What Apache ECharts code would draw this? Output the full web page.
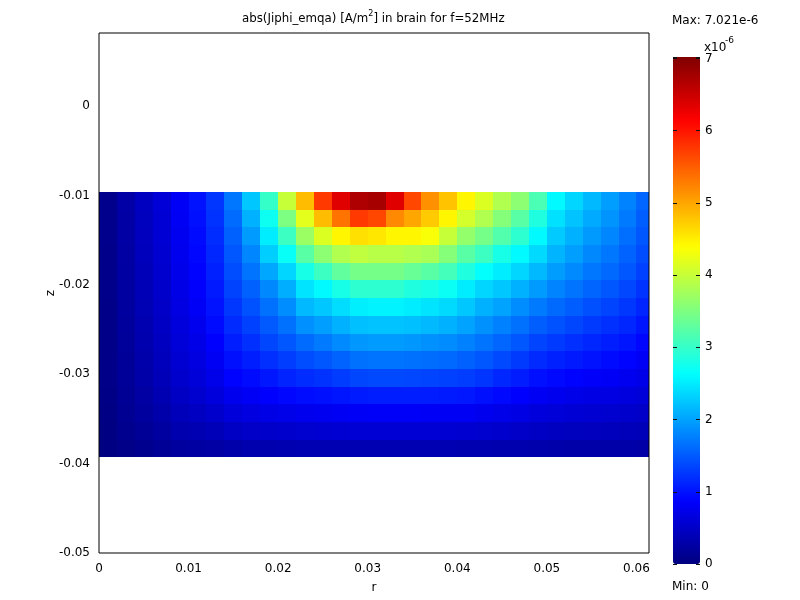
<!DOCTYPE html>
<html>
<head>
<meta charset="utf-8">
<script src="https://cdn.jsdelivr.net/npm/echarts@6/dist/echarts.min.js"></script>
<style>
html,body{margin:0;padding:0;background:#fff;}
#chart{width:800px;height:600px;}
</style>
</head>
<body>
<div id="chart"></div>
<script>
// r (cell centres, m) and z (cell centres, m) of the sampled field
const rCenters = [0.001,0.003,0.005,0.007,0.009,0.011,0.013,0.015,0.017,0.019,0.021,0.023,0.025,0.027,0.029,0.031,0.033,0.035,0.037,0.039,0.041,0.043,0.045,0.047,0.049,0.051,0.053,0.055,0.057,0.059,0.061];
const zCenters = [-0.01059,-0.01257,-0.01455,-0.01653,-0.01851,-0.02049,-0.02247,-0.02445,-0.02643,-0.02841,-0.03039,-0.03237,-0.03435,-0.03633,-0.03831];
// abs(Jiphi_emqa) in units of 1e-6 A/m^2, one row per z
const row0  = [0.09,0.27,0.45,0.6,0.82,1.0,1.25,1.7,2.25,3.0,4.0,4.85,5.75,6.35,6.7,6.75,6.35,5.65,5.15,4.8,4.45,4.15,3.85,3.6,3.15,2.6,2.35,2.15,1.97,1.78,1.58];
const row1  = [0.09,0.26,0.44,0.59,0.8,0.98,1.22,1.62,2.1,2.72,3.5,4.2,4.85,5.35,5.75,5.65,5.2,5.0,4.75,4.45,4.1,3.85,3.55,3.25,2.85,2.42,2.22,2.05,1.9,1.72,1.53];
const row2  = [0.09,0.26,0.43,0.58,0.78,0.95,1.18,1.55,1.95,2.5,3.05,3.7,4.15,4.45,4.6,4.55,4.45,4.45,4.35,4.0,3.65,3.45,3.2,2.95,2.6,2.27,2.1,1.94,1.8,1.64,1.47];
const row3  = [0.08,0.25,0.42,0.56,0.76,0.92,1.14,1.48,1.8,2.3,2.68,3.25,3.6,3.85,3.95,3.9,3.9,3.85,3.8,3.55,3.25,3.05,2.8,2.6,2.38,2.12,1.97,1.82,1.7,1.56,1.4];
const row4  = [0.08,0.24,0.4,0.54,0.74,0.89,1.1,1.41,1.67,2.03,2.35,2.8,3.05,3.3,3.45,3.45,3.45,3.35,3.25,3.1,2.85,2.65,2.5,2.35,2.15,1.96,1.83,1.7,1.6,1.47,1.32];
const row5  = [0.08,0.23,0.38,0.52,0.71,0.86,1.05,1.34,1.55,1.82,2.08,2.45,2.6,2.8,2.95,2.95,2.95,2.85,2.8,2.7,2.5,2.35,2.25,2.1,1.95,1.79,1.68,1.57,1.48,1.37,1.23];
const row6  = [0.07,0.22,0.36,0.5,0.68,0.82,1.0,1.26,1.44,1.66,1.85,2.15,2.25,2.4,2.52,2.55,2.55,2.5,2.45,2.38,2.25,2.1,2.0,1.85,1.72,1.61,1.52,1.43,1.35,1.26,1.13];
const row7  = [0.07,0.2,0.34,0.47,0.64,0.77,0.95,1.17,1.32,1.5,1.65,1.87,1.97,2.1,2.2,2.22,2.22,2.2,2.15,2.1,2.0,1.88,1.77,1.66,1.53,1.44,1.36,1.28,1.21,1.14,1.02];
const row8  = [0.06,0.19,0.32,0.45,0.61,0.72,0.88,1.08,1.2,1.36,1.48,1.62,1.72,1.83,1.93,1.95,1.95,1.93,1.88,1.84,1.77,1.68,1.58,1.48,1.35,1.27,1.2,1.14,1.08,1.02,0.92];
const row9  = [0.06,0.18,0.3,0.42,0.57,0.67,0.81,0.99,1.08,1.2,1.3,1.4,1.47,1.56,1.66,1.68,1.68,1.66,1.63,1.6,1.55,1.47,1.38,1.28,1.17,1.1,1.05,1.0,0.95,0.9,0.82];
const row10 = [0.06,0.17,0.28,0.39,0.53,0.61,0.73,0.89,0.95,1.03,1.12,1.18,1.22,1.29,1.36,1.38,1.38,1.37,1.35,1.33,1.3,1.24,1.15,1.07,0.98,0.93,0.89,0.85,0.82,0.78,0.72];
const row11 = [0.05,0.15,0.25,0.35,0.48,0.55,0.64,0.77,0.82,0.88,0.92,0.96,0.98,1.02,1.06,1.08,1.08,1.08,1.07,1.06,1.04,0.99,0.93,0.87,0.8,0.76,0.73,0.7,0.68,0.65,0.61];
const row12 = [0.04,0.13,0.21,0.3,0.41,0.46,0.53,0.63,0.67,0.71,0.73,0.76,0.78,0.8,0.82,0.83,0.83,0.83,0.82,0.81,0.8,0.77,0.73,0.69,0.64,0.61,0.59,0.57,0.55,0.53,0.5];
const row13 = [0.03,0.1,0.16,0.23,0.32,0.35,0.4,0.47,0.5,0.52,0.53,0.55,0.56,0.57,0.58,0.58,0.58,0.58,0.58,0.57,0.56,0.55,0.53,0.5,0.47,0.45,0.44,0.43,0.42,0.41,0.39];
const row14 = [0.02,0.07,0.11,0.16,0.22,0.24,0.26,0.3,0.32,0.33,0.34,0.35,0.35,0.35,0.35,0.35,0.35,0.35,0.35,0.35,0.34,0.34,0.33,0.32,0.31,0.3,0.29,0.29,0.28,0.28,0.27];
const fieldRows = [row0,row1,row2,row3,row4,row5,row6,row7,row8,row9,row10,row11,row12,row13,row14];

const xTickValues = [0,0.01,0.02,0.03,0.04,0.05,0.06];
const xTickLabels = ['0','0.01','0.02','0.03','0.04','0.05','0.06'];
const yTickValues = [-0.05,-0.04,-0.03,-0.02,-0.01,0];
const yTickLabels = ['-0.05','-0.04','-0.03','-0.02','-0.01','0'];
const cbTickValues = [0,1,2,3,4,5,6,7];
const cbTickLabels = ['0','1','2','3','4','5','6','7'];
const fieldMax = 7.021;
const fieldMin = 0;

const R_MAX = 0.0614;
const HALF_R = 0.001;
const HALF_Z = 0.00099;
const jet = ['#00007f','#0000ff','#007fff','#00ffff','#7fff7f','#ffff00','#ff7f00','#ff0000','#7f0000'];
const FONT = 'DejaVu Sans, Verdana, sans-serif';

function lookup(vals, labels) {
  return function (v) {
    for (let i = 0; i < vals.length; i++) {
      if (Math.abs(v - vals[i]) < 1e-7) return labels[i];
    }
    return '';
  };
}

const data = [];
fieldRows.forEach(function (row, i) {
  row.forEach(function (v, j) { data.push([rCenters[j], zCenters[i], v]); });
});

const cbTick = {show: true, inside: true, length: 4, lineStyle: {color: '#111', width: 1}};

const chart = echarts.init(document.getElementById('chart'), null, {renderer: 'canvas'});
chart.setOption({
  animation: false,
  backgroundColor: '#fff',
  grid: [
    {left: 99, top: 33, width: 550, height: 520, show: true, borderColor: '#000', borderWidth: 1, backgroundColor: 'transparent', z: 5},
    {left: 673, top: 57, width: 27, height: 507, show: false}
  ],
  xAxis: [
    {gridIndex: 0, type: 'value', min: 0, max: R_MAX, interval: 0.01,
     name: 'r', nameLocation: 'middle', nameGap: 29,
     nameTextStyle: {color: '#000', fontSize: 12, fontFamily: FONT},
     axisLine: {show: false, onZero: false}, axisTick: {show: false}, splitLine: {show: false},
     axisLabel: {color: '#000', fontSize: 12, fontFamily: FONT, margin: 10, formatter: lookup(xTickValues, xTickLabels)}},
    {gridIndex: 1, type: 'value', show: false, min: 0, max: 1}
  ],
  yAxis: [
    {gridIndex: 0, type: 'value', min: -0.05, max: 0.0082, interval: 0.01,
     name: 'z', nameLocation: 'middle', nameGap: 42, nameRotate: 90, nameMoveOverlap: false,
     nameTextStyle: {color: '#000', fontSize: 12, fontFamily: FONT},
     axisLine: {show: false, onZero: false}, axisTick: {show: false}, splitLine: {show: false},
     axisLabel: {color: '#000', fontSize: 12, fontFamily: FONT, margin: 9, formatter: lookup(yTickValues, yTickLabels)}},
    {gridIndex: 1, type: 'value', min: fieldMin, max: fieldMax, interval: 1, position: 'right', z: 10,
     axisLine: {show: false, onZero: false}, splitLine: {show: false},
     axisTick: cbTick,
     axisLabel: {color: '#000', fontSize: 12, fontFamily: FONT, margin: 5, formatter: lookup(cbTickValues, cbTickLabels)}},
    {gridIndex: 1, type: 'value', min: fieldMin, max: fieldMax, interval: 1, position: 'left', z: 10,
     axisLine: {show: false, onZero: false}, splitLine: {show: false},
     axisTick: cbTick,
     axisLabel: {show: false}}
  ],
  visualMap: {
    type: 'continuous', min: fieldMin, max: fieldMax, dimension: 2, seriesIndex: 0, z: 1,
    inRange: {color: jet}, calculable: false, hoverLink: false, realtime: false,
    left: 673, top: 57, itemWidth: 27, itemHeight: 507, padding: 0, orient: 'vertical'
  },
  graphic: [
    {type: 'text', left: 242, top: 10, style: {
      text: 'abs(Jiphi_emqa) [A/m{sup|2}] in brain for f=52MHz',
      fill: '#000', font: '11.8px ' + FONT,
      rich: {sup: {fontSize: 8, fontFamily: FONT, fill: '#000', padding: [0, 0, 9, 0]}}
    }},
    {type: 'text', left: 672, top: 15, style: {text: 'Max: 7.021e-6', fill: '#000', font: '12px ' + FONT}},
    {type: 'text', left: 704, top: 42, style: {text: 'x10', fill: '#000', font: '12px ' + FONT}},
    {type: 'text', left: 725, top: 36, style: {text: '-6', fill: '#000', font: '9px ' + FONT}},
    {type: 'text', left: 672, top: 581, style: {text: 'Min: 0', fill: '#000', font: '12px ' + FONT}}
  ],
  series: [{
    type: 'custom',
    coordinateSystem: 'cartesian2d',
    xAxisIndex: 0, yAxisIndex: 0,
    encode: {x: 0, y: 1},
    data: data,
    silent: true,
    renderItem: function (params, api) {
      const r = api.value(0), z = api.value(1);
      const p0 = api.coord([Math.max(0, r - HALF_R), z + HALF_Z]);
      const p1 = api.coord([Math.min(R_MAX, r + HALF_R), z - HALF_Z]);
      const c = api.visual('color');
      const x0 = Math.round(p0[0]), y0 = Math.round(p0[1]);
      const x1 = Math.round(p1[0]), y1 = Math.round(p1[1]);
      return {type: 'rect', shape: {x: x0, y: y0, width: x1 - x0, height: y1 - y0},
              style: {fill: c}};
    }
  }]
});
</script>
</body>
</html>
